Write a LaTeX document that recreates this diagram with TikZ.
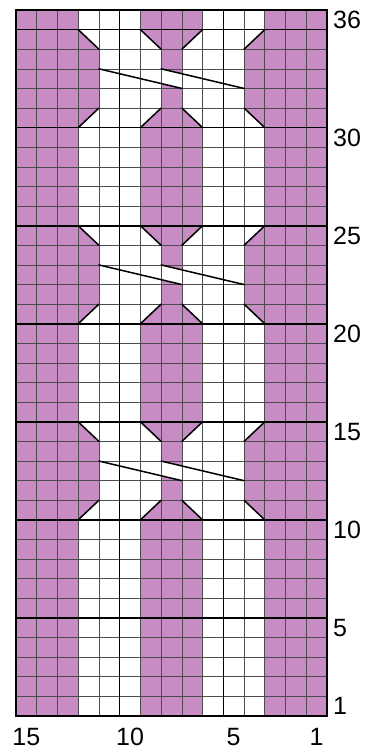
\documentclass[tikz,border=0pt]{standalone}
\usepackage{fontspec}
\setmainfont{Liberation Sans}
\definecolor{knitpink}{RGB}{200,140,196}
\begin{document}
\begin{tikzpicture}[x=20.733pt,y=19.611pt,
  thingrid/.style={draw=black!70,line width=0.6pt},
  thickline/.style={draw=black,line width=1.6pt},
  diag/.style={draw=black,line width=1.5pt,line cap=round},
  border/.style={draw=black,line width=2.4pt},
  numlabel/.style={font=\fontsize{25}{25}\selectfont,inner sep=0pt}]
\useasboundingbox (-0.7717,-1.9887) rectangle (16.881,36.51);
% plain rows
\foreach \a/\b in {0/10,15/20,25/30,35/36}{
  \fill[knitpink] (0,\a) rectangle (3,\b);
  \fill[knitpink] (6,\a) rectangle (9,\b);
  \fill[knitpink] (12,\a) rectangle (15,\b);
}
% cable sections
\foreach \b in {10,20,30}{
  % top row of the cable
  \fill[knitpink] (0,\b+4) -- (4,\b+4) -- (3,\b+5) -- (0,\b+5) -- cycle;
  \fill[knitpink] (6,\b+5) -- (9,\b+5) -- (8,\b+4) -- (7,\b+4) -- cycle;
  \fill[knitpink] (12,\b+5) -- (15,\b+5) -- (15,\b+4) -- (11,\b+4) -- cycle;
  % middle rows
  \fill[knitpink] (0,\b+1) rectangle (4,\b+4);
  \fill[knitpink] (7,\b+1) rectangle (8,\b+4);
  \fill[knitpink] (11,\b+1) rectangle (15,\b+4);
  % bottom row of the cable
  \fill[knitpink] (0,\b) -- (3,\b) -- (4,\b+1) -- (0,\b+1) -- cycle;
  \fill[knitpink] (6,\b) -- (9,\b) -- (8,\b+1) -- (7,\b+1) -- cycle;
  \fill[knitpink] (12,\b) -- (15,\b) -- (15,\b+1) -- (11,\b+1) -- cycle;
  % crossing strand
  \fill[white] (4,\b+3) -- (7,\b+3) -- (11,\b+2) -- (8,\b+2) -- cycle;
}
% grid
\draw[thingrid] (0,0) grid[step=1] (15,36);
\foreach \y in {5,10,...,35}{
  \draw[thickline] (0,\y) -- (15,\y);
}
\draw[thickline] (5,0) -- (5,36);
\draw[thickline] (10,0) -- (10,36);
% cable lines
\foreach \b in {10,20,30}{
  \draw[diag] (3,\b+5) -- (4,\b+4);
  \draw[diag] (6,\b+5) -- (7,\b+4);
  \draw[diag] (9,\b+5) -- (8,\b+4);
  \draw[diag] (12,\b+5) -- (11,\b+4);
  \draw[diag] (4,\b+1) -- (3,\b);
  \draw[diag] (7,\b+1) -- (6,\b);
  \draw[diag] (8,\b+1) -- (9,\b);
  \draw[diag] (11,\b+1) -- (12,\b);
  \draw[diag] (4,\b+3) -- (8,\b+2);
  \draw[diag] (7,\b+3) -- (11,\b+2);
}
\draw[border] (0,0) rectangle (15,36);
% row numbers
\foreach \r in {36,30,25,20,15,10,5,1}{
  \node[numlabel,anchor=west] (row\r) at (15.29,\r-0.5) {\r};
}
% column numbers
\foreach \c in {15,10,5,1}{
  \node[numlabel] (col\c) at (15.5-\c,-1.07) {\c};
}
\end{tikzpicture}
\end{document}
